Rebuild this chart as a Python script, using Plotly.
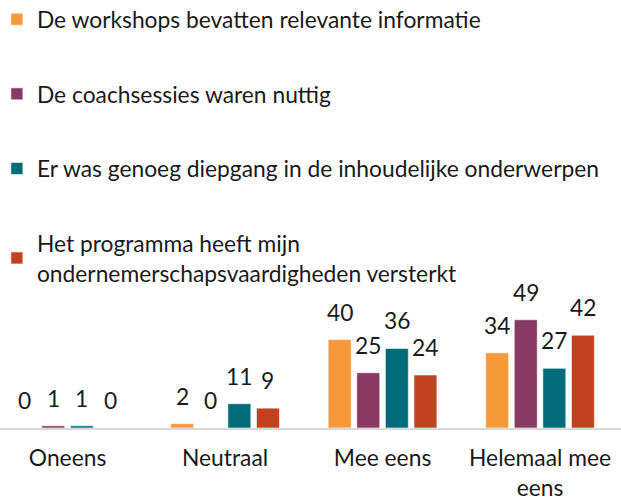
import plotly.graph_objects as go

categories = ['Oneens', 'Neutraal', 'Mee eens', 'Helemaal mee<br>eens']

series_names = [
    'De workshops bevatten relevante informatie',
    'De coachsessies waren nuttig',
    'Er was genoeg diepgang in de inhoudelijke onderwerpen',
    'Het programma heeft mijn<br>ondernemerschapsvaardigheden versterkt',
]
workshops = [0, 2, 40, 34]
coaching = [1, 0, 25, 49]
diepgang = [1, 11, 36, 27]
programma = [0, 9, 24, 42]

colors = ['#F7993A', '#893A63', '#006B79', '#C1421F']
FONT = 'Lato'
FS = 22.8

fig = go.Figure()
series = [workshops, coaching, diepgang, programma]
for i, (name, vals) in enumerate(zip(series_names, series)):
    fig.add_trace(go.Bar(
        name=name, x=categories, y=vals,
        marker=dict(color=colors[i], line=dict(color='rgba(255,255,255,0.6)', width=1)),
        legendgroup='g%d' % i,
    ))

# value labels above the bars
pitch = 28.6
for i, vals in enumerate(series):
    for c, v in zip(categories, vals):
        fig.add_annotation(x=c, y=v, text=str(v), showarrow=False,
                           xshift=(i - 1.5) * pitch, yanchor='bottom', yshift=12,
                           font=dict(family=FONT, size=FS, color='#1a1a1a'))

fig.update_layout(
    width=621, height=501,
    margin=dict(l=0, r=0, t=0, b=73, autoexpand=False),
    barmode='group', bargap=0.274, bargroupgap=0.196,
    plot_bgcolor='white', paper_bgcolor='white',
    font=dict(family=FONT, size=FS, color='#1a1a1a'),
    legend=dict(x=-0.005, y=1.005, xanchor='left', yanchor='top', tracegroupgap=42,
                maxheight=480,
                font=dict(family=FONT, size=FS, color='#1a1a1a'),
                bgcolor='rgba(0,0,0,0)'),
    showlegend=True,
)
fig.update_xaxes(range=[-0.429, 3.514], showline=True, linecolor='#D9D9D9', linewidth=1.5,
                 showgrid=False, ticks='', tickfont=dict(size=FS), ticklabelstandoff=9,
                 automargin=False)
fig.update_yaxes(range=[0, 193.7], visible=False, showgrid=False)

# drop the default 8px body margin so the chart sits at the page corner
fig.write_html('out.html', config={'displayModeBar': False},
               post_script="document.body.style.margin='0';")
